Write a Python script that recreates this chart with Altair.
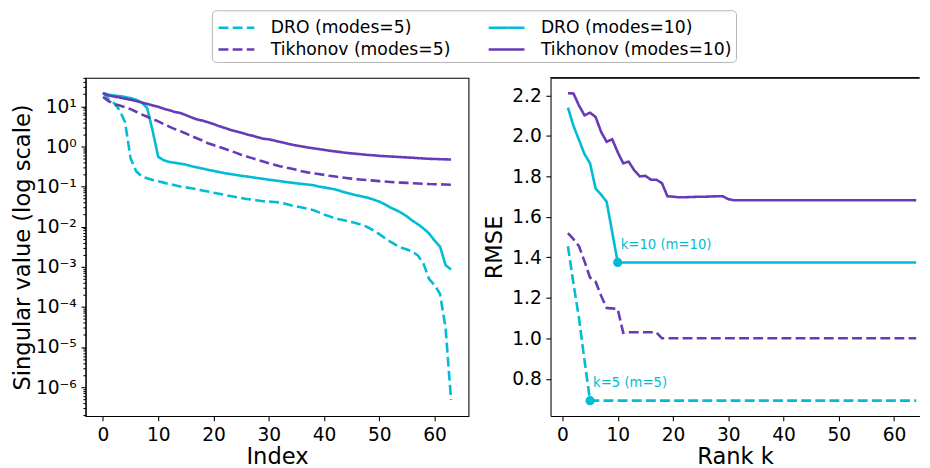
import altair as alt
import pandas as pd

CYAN = "#00BCD4"
PURPLE = "#673AB7"
FONT = "DejaVu Sans"

# legend order (column-major fill): col 1 = modes=5, col 2 = modes=10
SERIES = ["DRO (modes=5)", "Tikhonov (modes=5)", "DRO (modes=10)", "Tikhonov (modes=10)"]
COLORS = [CYAN, PURPLE, CYAN, PURPLE]
DASHES = [[9.9, 4.3], [9.9, 4.3], [1, 0], [1, 0]]

# ---- left panel: singular values ----
index = list(range(64))
sv_dro5 = [22, 15, 12, 8, 4, 0.5, 0.24, 0.18, 0.16, 0.145,
           0.135, 0.125, 0.115, 0.108, 0.1, 0.095, 0.09, 0.085, 0.08, 0.075,
           0.07, 0.066, 0.062, 0.058, 0.055, 0.052, 0.049, 0.047, 0.045, 0.043,
           0.042, 0.041, 0.04, 0.037, 0.034, 0.032, 0.03, 0.028, 0.026, 0.023,
           0.02, 0.018, 0.016, 0.015, 0.014, 0.013, 0.012, 0.011, 0.0095, 0.008,
           0.0065, 0.0052, 0.0042, 0.0035, 0.003, 0.0027, 0.0024, 0.0019, 0.0012, 0.0005,
           0.00035, 0.00021, 0.00003, 4.8e-7]
sv_dro10 = [21.5, 19.5, 18.5, 18, 17, 16, 14.5, 12.5, 9, 2.4,
            0.55, 0.45, 0.41, 0.39, 0.37, 0.35, 0.32, 0.3, 0.28, 0.26,
            0.245, 0.23, 0.215, 0.205, 0.195, 0.185, 0.178, 0.17, 0.162, 0.155,
            0.148, 0.142, 0.136, 0.13, 0.125, 0.12, 0.116, 0.112, 0.108, 0.1,
            0.095, 0.09, 0.085, 0.077, 0.07, 0.065, 0.06, 0.056, 0.052, 0.047,
            0.042, 0.036, 0.03, 0.026, 0.022, 0.018, 0.014, 0.0115, 0.009, 0.0068,
            0.0045, 0.0032, 0.0011, 0.00085]
sv_tik5 = [17, 13.5, 11.5, 10.5, 9.5, 8.5, 7.3, 6.3, 5.5, 4.8,
           4.2, 3.6, 3.1, 2.7, 2.4, 2.1, 1.8, 1.6, 1.4, 1.2,
           1.08, 0.97, 0.87, 0.78, 0.7, 0.62, 0.56, 0.51, 0.46, 0.42,
           0.38, 0.35, 0.32, 0.30, 0.28, 0.26, 0.24, 0.225, 0.215, 0.205,
           0.195, 0.185, 0.177, 0.17, 0.163, 0.157, 0.152, 0.148, 0.144, 0.14,
           0.136, 0.133, 0.13, 0.127, 0.125, 0.123, 0.121, 0.119, 0.117, 0.115,
           0.114, 0.113, 0.112, 0.111]
sv_tik10 = [21, 18.5, 17.5, 16.5, 15.5, 14.5, 13.5, 12.5, 11.5, 10.5,
            9.7, 8.7, 8.0, 7.2, 6.8, 6.0, 5.3, 4.7, 4.4, 4.0,
            3.6, 3.2, 2.9, 2.6, 2.4, 2.2, 2.0, 1.85, 1.7, 1.55,
            1.5, 1.4, 1.3, 1.2, 1.12, 1.05, 1.0, 0.94, 0.9, 0.86,
            0.82, 0.78, 0.75, 0.72, 0.69, 0.67, 0.65, 0.63, 0.61, 0.6,
            0.58, 0.57, 0.56, 0.55, 0.54, 0.53, 0.52, 0.51, 0.5, 0.49,
            0.485, 0.48, 0.475, 0.47]

# ---- right panel: RMSE vs rank ----
rank = list(range(1, 65))
rmse_dro5 = [1.455, 1.27, 1.10, 0.89, 0.692, 0.692, 0.692, 0.692, 0.692, 0.692,
             0.692, 0.692, 0.692, 0.692, 0.692, 0.692, 0.692, 0.692, 0.692, 0.692,
             0.692, 0.692, 0.692, 0.692, 0.692, 0.692, 0.692, 0.692, 0.692, 0.692,
             0.692, 0.692, 0.692, 0.692, 0.692, 0.692, 0.692, 0.692, 0.692, 0.692,
             0.692, 0.692, 0.692, 0.692, 0.692, 0.692, 0.692, 0.692, 0.692, 0.692,
             0.692, 0.692, 0.692, 0.692, 0.692, 0.692, 0.692, 0.692, 0.692, 0.692,
             0.692, 0.692, 0.692, 0.692]
rmse_dro10 = [2.14, 2.05, 1.98, 1.91, 1.865, 1.74, 1.71, 1.675, 1.525, 1.375,
              1.375, 1.375, 1.375, 1.375, 1.375, 1.375, 1.375, 1.375, 1.375, 1.375,
              1.375, 1.375, 1.375, 1.375, 1.375, 1.375, 1.375, 1.375, 1.375, 1.375,
              1.375, 1.375, 1.375, 1.375, 1.375, 1.375, 1.375, 1.375, 1.375, 1.375,
              1.375, 1.375, 1.375, 1.375, 1.375, 1.375, 1.375, 1.375, 1.375, 1.375,
              1.375, 1.375, 1.375, 1.375, 1.375, 1.375, 1.375, 1.375, 1.375, 1.375,
              1.375, 1.375, 1.375, 1.375]
rmse_tik5 = [1.52, 1.49, 1.455, 1.38, 1.30, 1.28, 1.21, 1.15, 1.148, 1.145,
             1.027, 1.03, 1.03, 1.03, 1.03, 1.03, 1.03, 1.0, 1.0, 1.0,
             1.0, 1.0, 1.0, 1.0, 1.0, 1.0, 1.0, 1.0, 1.0, 1.0,
             1.0, 1.0, 1.0, 1.0, 1.0, 1.0, 1.0, 1.0, 1.0, 1.0,
             1.0, 1.0, 1.0, 1.0, 1.0, 1.0, 1.0, 1.0, 1.0, 1.0,
             1.0, 1.0, 1.0, 1.0, 1.0, 1.0, 1.0, 1.0, 1.0, 1.0,
             1.0, 1.0, 1.0, 1.0]
rmse_tik10 = [2.211, 2.21, 2.15, 2.102, 2.115, 2.094, 2.02, 1.971, 1.984, 1.92,
              1.865, 1.873, 1.83, 1.80, 1.803, 1.784, 1.784, 1.767, 1.702, 1.70,
              1.697, 1.697, 1.698, 1.699, 1.70, 1.70, 1.701, 1.702, 1.702, 1.688,
              1.682, 1.682, 1.682, 1.682, 1.682, 1.682, 1.682, 1.682, 1.682, 1.682,
              1.682, 1.682, 1.682, 1.682, 1.682, 1.682, 1.682, 1.682, 1.682, 1.682,
              1.682, 1.682, 1.682, 1.682, 1.682, 1.682, 1.682, 1.682, 1.682, 1.682,
              1.682, 1.682, 1.682, 1.682]

ann_k = [5, 10]
ann_rmse = [0.692, 1.375]
ann_text = ["k=5 (m=5)", "k=10 (m=10)"]

# ---- tables ----
left_rows = []
for name, vals in [("DRO (modes=5)", sv_dro5), ("DRO (modes=10)", sv_dro10),
                   ("Tikhonov (modes=5)", sv_tik5), ("Tikhonov (modes=10)", sv_tik10)]:
    for i, v in zip(index, vals):
        left_rows.append({"series": name, "index": i, "sv": v})
df_left = pd.DataFrame(left_rows)

right_rows = []
for name, vals in [("DRO (modes=5)", rmse_dro5), ("DRO (modes=10)", rmse_dro10),
                   ("Tikhonov (modes=5)", rmse_tik5), ("Tikhonov (modes=10)", rmse_tik10)]:
    for k, v in zip(rank, vals):
        right_rows.append({"series": name, "k": k, "rmse": v})
df_right = pd.DataFrame(right_rows)
df_ann = pd.DataFrame({"k": ann_k, "rmse": ann_rmse, "label": ann_text})

# ---- log axis ticks (major + minor) ----
log_ticks = []
for e in range(-7, 2):
    for m in range(1, 10):
        v = m * 10.0 ** e
        if 1.9e-7 <= v <= 51:
            log_ticks.append(v)
LG = "(log(datum.value)/LN10)"
sup = {"-": "\u207b", "0": "\u2070", "1": "\u00b9", "2": "\u00b2", "3": "\u00b3",
       "4": "\u2074", "5": "\u2075", "6": "\u2076", "7": "\u2077", "8": "\u2078", "9": "\u2079"}
expr = ""
for e in range(-6, 2):
    s = "10" + "".join(sup[c] for c in str(e))
    expr += f"round({LG}) == {e} ? '{s}' : "
expr += "''"
label_expr = f"abs({LG} - round({LG})) > 0.01 ? '' : ({expr})"

W_L, W_R, H = 385, 371, 340

legend = alt.Legend(
    title=None, orient="none", legendX=127, legendY=-68, columns=2,
    symbolType="M-0.9,0L2.1,0", symbolSize=576, symbolStrokeWidth=2.6,
    labelFontSize=17.3, labelFont=FONT, labelColor="black", labelOffset=28.2,
    columnPadding=32.6, rowPadding=0, padding=4, labelLimit=400,
    strokeColor="#b5b5b5", cornerRadius=4, fillColor="white",
)
color = alt.Color("series:N", scale=alt.Scale(domain=SERIES, range=COLORS), legend=legend)
dash = alt.StrokeDash("series:N", scale=alt.Scale(domain=SERIES, range=DASHES), legend=legend)

left = alt.Chart(df_left).mark_line(strokeWidth=2.6).encode(
    x=alt.X("index:Q", scale=alt.Scale(domain=[-3.15, 66.15], nice=False, zero=False),
            axis=alt.Axis(title="Index", values=[0, 10, 20, 30, 40, 50, 60], format="d",
                          titlePadding=20, titleBaseline="alphabetic")),
    y=alt.Y("sv:Q", scale=alt.Scale(type="log", domain=[1.9e-7, 51], nice=False),
            axis=alt.Axis(title="Singular value (log scale)", values=log_ticks, labelExpr=label_expr,
                          labelOverlap=False, minExtent=46, maxExtent=46, titlePadding=5.3,
                          tickSize={"condition": {"test": f"abs({LG} - round({LG})) < 0.01", "value": 4.67}, "value": 2.67})),
    color=color,
    strokeDash=dash,
    order=alt.Order("index:Q"),
).properties(width=W_L, height=H)

xr = alt.X("k:Q", scale=alt.Scale(domain=[-2.15, 64.6], nice=False, zero=False),
           axis=alt.Axis(title="Rank k", values=[0, 10, 20, 30, 40, 50, 60], format="d",
                         titlePadding=20, titleBaseline="alphabetic"))
yr = alt.Y("rmse:Q", scale=alt.Scale(domain=[0.616, 2.287], nice=False, zero=False),
           axis=alt.Axis(title="RMSE", values=[0.8, 1.0, 1.2, 1.4, 1.6, 1.8, 2.0, 2.2], format=".1f",
                         minExtent=39, maxExtent=39, titlePadding=5.3))

r_lines = alt.Chart(df_right).mark_line(strokeWidth=2.6).encode(
    x=xr, y=yr, color=color, strokeDash=dash, order=alt.Order("k:Q"))
r_pts = alt.Chart(df_ann).mark_point(filled=True, size=85, color=CYAN, opacity=1).encode(x=xr, y=yr)
r_txt = alt.Chart(df_ann).mark_text(align="left", baseline="alphabetic", dx=3, dy=-14,
                                    fontSize=13.3, font=FONT, color=CYAN).encode(x=xr, y=yr, text="label:N")
r_top = alt.Chart(df_ann).mark_rule(color="black", strokeWidth=1.07).encode(
    x=alt.value(0), x2=alt.value(W_R), y=alt.value(0))

right = alt.layer(r_lines, r_pts, r_txt, r_top).properties(
    width=W_R, height=H, view=alt.ViewBackground(stroke="transparent"))

chart = alt.hconcat(left, right, spacing=13.5).resolve_scale(
    color="shared", strokeDash="shared"
).properties(
    padding={"left": 3, "top": 0, "right": 0, "bottom": 0}
).configure_axis(
    labelFont=FONT, titleFont=FONT, labelFontSize=18.7, titleFontSize=22.7,
    titleFontWeight="normal", labelColor="black", titleColor="black",
    tickColor="black", domainColor="black", tickSize=4.67, tickWidth=1.07,
    domainWidth=1.07, labelPadding=4.67, grid=False,
).configure_view(stroke="black", strokeWidth=1.07)

chart.save("out.html", embed_options={"renderer": "svg", "actions": False})
